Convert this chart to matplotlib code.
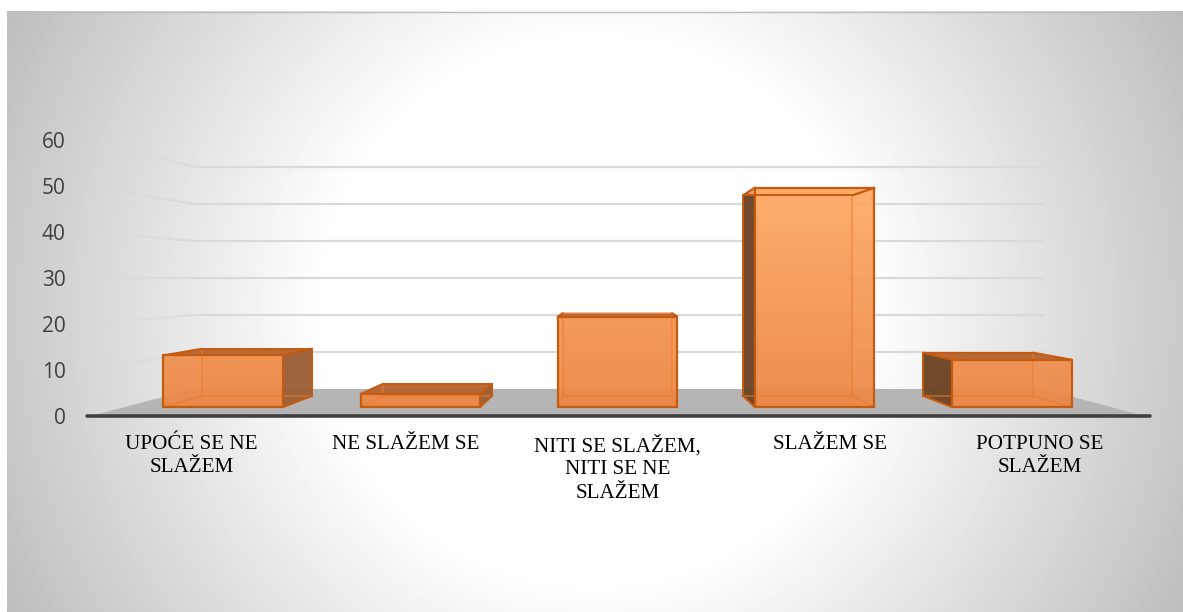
import numpy as np
import matplotlib
matplotlib.use("Agg")
import matplotlib.pyplot as plt
from matplotlib.patches import Polygon

# chart data
categories = ["UPOĆE SE NE\nSLAŽEM", "NE SLAŽEM SE", "NITI SE SLAŽEM,\nNITI SE NE\nSLAŽEM", "SLAŽEM SE", "POTPUNO SE\nSLAŽEM"]
values = [12, 3, 21, 51, 11]
y_ticks = [0, 10, 20, 30, 40, 50, 60]
label_pos = [-0.021, 0.997, 2.002, 3.01, 4.005]

# perspective scale of wall and of bar faces
S_WALL = 0.804
S_FRONT = 0.935
S_BACK = 0.855
CX, CY = 2.0, 30.0
BAR_W = 0.607

EDGE = "#C55A11"
INNER = "#EE7A2C"


def proj(x, y, s):
    return (CX + (x - CX) * s, CY + (y - CY) * s)


W, H = 1183, 612
fig = plt.figure(figsize=(W / 100, H / 100), dpi=100, facecolor="white")

# background panel, radial grey to white
bg = fig.add_axes([7 / W, 0, (W - 7) / W, (H - 11) / H])
px, py = np.meshgrid(np.arange(7, W), np.arange(11, H))
d = np.hypot(px - 595, py - 311)
shade = 255 - np.clip((d - 270) / 390, 0, 1) * 66
bg.imshow(shade, cmap="gray", vmin=0, vmax=255, aspect="auto", interpolation="bilinear")
bg.set_axis_off()
fig.add_artist(plt.Line2D([7 / W, 1], [(H - 11.5) / H] * 2, color="#bdbdbd", lw=1))

ax = fig.add_axes([90.5 / W, (H - 416) / H, 1054 / W, 276 / H])
ax.patch.set_alpha(0)
for sp in ax.spines.values():
    sp.set_visible(False)

# floor
floor = [proj(-0.5, 0, 1), proj(-0.5, 0, S_WALL), proj(4.51, 0, S_WALL), proj(4.5, 0, 1)]
ax.add_patch(Polygon(floor, closed=True, fc="#B5B5B5", ec="none", zorder=1))

# gridlines on back wall and fading on left wall
for t in y_ticks[1:]:
    x0, y0 = proj(-0.5, t, S_WALL)
    x1, y1 = proj(4.515, t, S_WALL)
    ax.plot([x0, x1], [y0, y1], color="#D9D9D9", lw=1.6, zorder=1.5, solid_capstyle="butt")
    ss = np.linspace(1.0, S_WALL, 25)
    for i in range(len(ss) - 1):
        a = proj(-0.5, t, ss[i])
        b = proj(-0.5, t, ss[i + 1])
        ax.plot([a[0], b[0]], [a[1], b[1]], color="#D9D9D9", lw=1.6, alpha=i / 24,
                zorder=1.5, solid_capstyle="butt", clip_on=False)

# bars
for i, v in enumerate(values):
    xl, xr = i - BAR_W / 2, i + BAR_W / 2
    fbl, fbr = proj(xl, 0, S_FRONT), proj(xr, 0, S_FRONT)
    ftl, ftr = proj(xl, v, S_FRONT), proj(xr, v, S_FRONT)
    bbl, bbr = proj(xl, 0, S_BACK), proj(xr, 0, S_BACK)
    btl, btr = proj(xl, v, S_BACK), proj(xr, v, S_BACK)

    # back, floor side faces
    ax.add_patch(Polygon([bbl, bbr, btr, btl], fc="#ED7D31", ec="none", alpha=0.25, zorder=2))
    ax.add_patch(Polygon([fbl, fbr, bbr, bbl], fc="#ED7D31", ec="none", alpha=0.3, zorder=2.1))
    if i < 2:
        ax.add_patch(Polygon([fbr, bbr, btr, ftr], fc="#9A5F36", ec="none", alpha=0.95, zorder=2.2))
    elif i > 2:
        ax.add_patch(Polygon([fbl, bbl, btl, ftl], fc="#6E4527", ec="none", alpha=0.97, zorder=2.2))
    if v < CY:
        ax.add_patch(Polygon([ftl, ftr, btr, btl], fc="#B5622B", ec="none", alpha=0.92, zorder=2.2))
    else:
        ax.add_patch(Polygon([ftl, ftr, btr, btl], fc="#FBA565", ec="none", alpha=0.9, zorder=2.2))

    # front face, lighter towards the top
    ramp = np.linspace(0, 1, 64)[:, None]
    low = np.array([0.925, 0.53, 0.27])
    high = np.array([1.0, 0.67, 0.40])
    rgba = np.dstack([low[c] + (high[c] - low[c]) * (ramp * v / 51) for c in range(3)] + [np.full((64, 1), 0.93)])
    front = Polygon([fbl, fbr, ftr, ftl], fc="none", ec="none", zorder=2.3)
    ax.add_patch(front)
    im = ax.imshow(rgba, extent=[ftl[0], ftr[0], fbl[1], ftl[1]], origin="lower", aspect="auto", zorder=2.3)
    im.set_clip_path(front)

    # hidden edges seen through the face
    for a, b in [(bbl, bbr), (bbr, btr), (btr, btl), (btl, bbl), (fbl, bbl), (fbr, bbr)]:
        ax.plot([a[0], b[0]], [a[1], b[1]], color=INNER, lw=1.1, alpha=0.65, zorder=2.4)
    # visible edges
    for a, b in [(fbl, fbr), (fbr, ftr), (ftr, ftl), (ftl, fbl), (ftl, btl), (ftr, btr)]:
        ax.plot([a[0], b[0]], [a[1], b[1]], color=EDGE, lw=1.6, zorder=2.5, solid_capstyle="round")
    if i < 2:
        for a, b in [(fbr, bbr), (bbr, btr), (btr, btl)]:
            ax.plot([a[0], b[0]], [a[1], b[1]], color=EDGE, lw=1.4, zorder=2.5)
    if i > 2:
        for a, b in [(fbl, bbl), (bbl, btl), (btl, btr)]:
            ax.plot([a[0], b[0]], [a[1], b[1]], color=EDGE, lw=1.4, zorder=2.5)

# x axis line
ax.plot([-0.515, 4.525], [0, 0], color="#404040", lw=2.6, zorder=3, clip_on=False, solid_capstyle="round")

ax.set_xlim(-0.5, 4.5)
ax.set_ylim(0, 60)
ax.set_yticks(y_ticks)
ax.set_yticklabels([str(t) for t in y_ticks], fontsize=15, color="#404040", family="Open Sans")
ax.set_xticks(label_pos)
ax.set_xticklabels(categories, fontsize=15.2, color="black", family="Liberation Serif", linespacing=1.3)
ax.tick_params(axis="y", length=0, pad=18)
ax.tick_params(axis="x", length=0, pad=13.5)

fig.savefig("out.png", dpi=100)
